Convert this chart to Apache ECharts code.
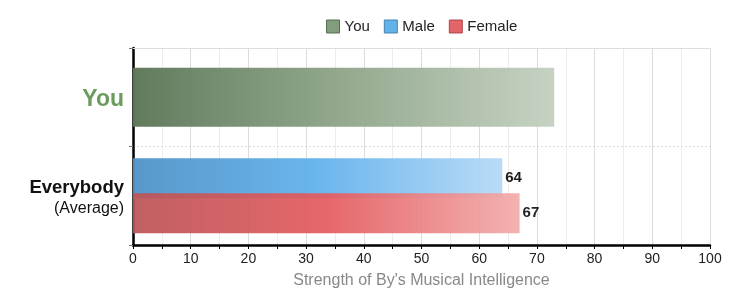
<!DOCTYPE html>
<html>
<head>
<meta charset="utf-8">
<script src="https://cdn.jsdelivr.net/npm/echarts@6/dist/echarts.min.js"></script>
<style>html,body{margin:0;padding:0;background:#fff}#c{width:729px;height:300px}</style>
</head>
<body>
<div id="c"></div>
<script>
var categories = ['Everybody', 'You'];
var youValues = ['-', 73];
var maleValues = [64, '-'];
var femaleValues = [67, '-'];
var xTicks = [0, 10, 20, 30, 40, 50, 60, 70, 80, 90, 100];
var axisTitle = "Strength of By's Musical Intelligence";

function grad(a, b, c) {
  return new echarts.graphic.LinearGradient(0, 0, 1, 0, [
    {offset: 0, color: a}, {offset: 0.5, color: b}, {offset: 1, color: c}
  ]);
}
var F = '"Liberation Sans", Arial, sans-serif';
var chart = echarts.init(document.getElementById('c'));
chart.setOption({
  animation: false,
  textStyle: {fontFamily: F},
  legend: {
    top: 14, left: 321, itemWidth: 13, itemHeight: 13, itemGap: 14,
    textStyle: {fontSize: 15, color: '#222', fontFamily: F},
    data: [
      {name: 'You', icon: 'rect', itemStyle: {color: '#7d9a78', borderColor: '#566b52', borderWidth: 1}},
      {name: 'Male', icon: 'rect', itemStyle: {color: '#5aaee8', borderColor: '#3d7fb0', borderWidth: 1}},
      {name: 'Female', icon: 'rect', itemStyle: {color: '#e05a5e', borderColor: '#a84044', borderWidth: 1}}
    ]
  },
  grid: {left: 133, right: 19, top: 48, bottom: 55},
  xAxis: [{
    type: 'value', min: 0, max: 100, interval: 10,
    name: axisTitle, nameLocation: 'middle', nameGap: 28,
    nameTextStyle: {color: '#888', fontSize: 16, fontFamily: F},
    axisLine: {show: true, lineStyle: {color: '#000', width: 2.5}},
    axisTick: {show: true, length: 4, lineStyle: {color: '#000'}},
    minorTick: {show: true, splitNumber: 2, length: 4, lineStyle: {color: '#000'}},
    axisLabel: {color: '#222', fontSize: 14, margin: 7, fontFamily: F,
      formatter: function (v) { return xTicks.indexOf(v) >= 0 ? String(v) : ''; }},
    splitLine: {show: true, lineStyle: {color: '#dcdcdc', width: 1}},
    minorSplitLine: {show: true, lineStyle: {color: '#ececec', width: 1}}
  }, {
    type: 'value', min: 0, max: 100, position: 'top',
    axisLine: {show: true, lineStyle: {color: '#ddd', width: 1}},
    axisTick: {show: false}, axisLabel: {show: false}, splitLine: {show: false}
  }],
  yAxis: [{
    type: 'category', data: categories,
    axisLine: {show: true, lineStyle: {color: '#000', width: 2.5}},
    axisTick: {show: true, length: 4, lineStyle: {color: '#777'}},
    splitLine: {show: true, lineStyle: {color: '#ddd', type: [2, 2]}},
    axisLabel: {
      margin: 9,
      padding: [4, 0, 0, 0],
      formatter: function (v) {
        if (v === 'You') return '{you|You}';
        return '{ev|Everybody}\n{avg|(Average)}';
      },
      rich: {
        you: {fontSize: 23, fontWeight: 'bold', color: '#6b9b5f', fontFamily: F},
        ev: {fontSize: 18.5, fontWeight: 'bold', color: '#111', fontFamily: F, lineHeight: 21, align: 'right'},
        avg: {fontSize: 16, color: '#111', fontFamily: F, lineHeight: 20, align: 'right'}
      }
    }
  }, {
    type: 'category', data: categories, show: false
  }],
  series: [{
    name: 'You', type: 'bar', yAxisIndex: 1, data: youValues, barWidth: 59,
    itemStyle: {color: grad('#5c7657', '#90a68b', '#c4d1c1'), opacity: 0.97}
  }, {
    name: 'Male', type: 'bar', yAxisIndex: 0, data: maleValues, barWidth: 40, barGap: '-12.5%',
    itemStyle: {color: grad('#4f93c6', '#62b1ec', '#b5d9f6'), opacity: 0.95},
    label: {show: true, position: 'right', distance: 3, color: '#111', fontWeight: 'bold', fontSize: 15, fontFamily: F}
  }, {
    name: 'Female', type: 'bar', yAxisIndex: 0, data: femaleValues, barWidth: 40, barGap: '-12.5%',
    itemStyle: {color: grad('#bb5456', '#e45b5f', '#f2acab'), opacity: 0.93},
    label: {show: true, position: 'right', distance: 3, color: '#111', fontWeight: 'bold', fontSize: 15, fontFamily: F}
  }]
});
</script>
</body>
</html>
